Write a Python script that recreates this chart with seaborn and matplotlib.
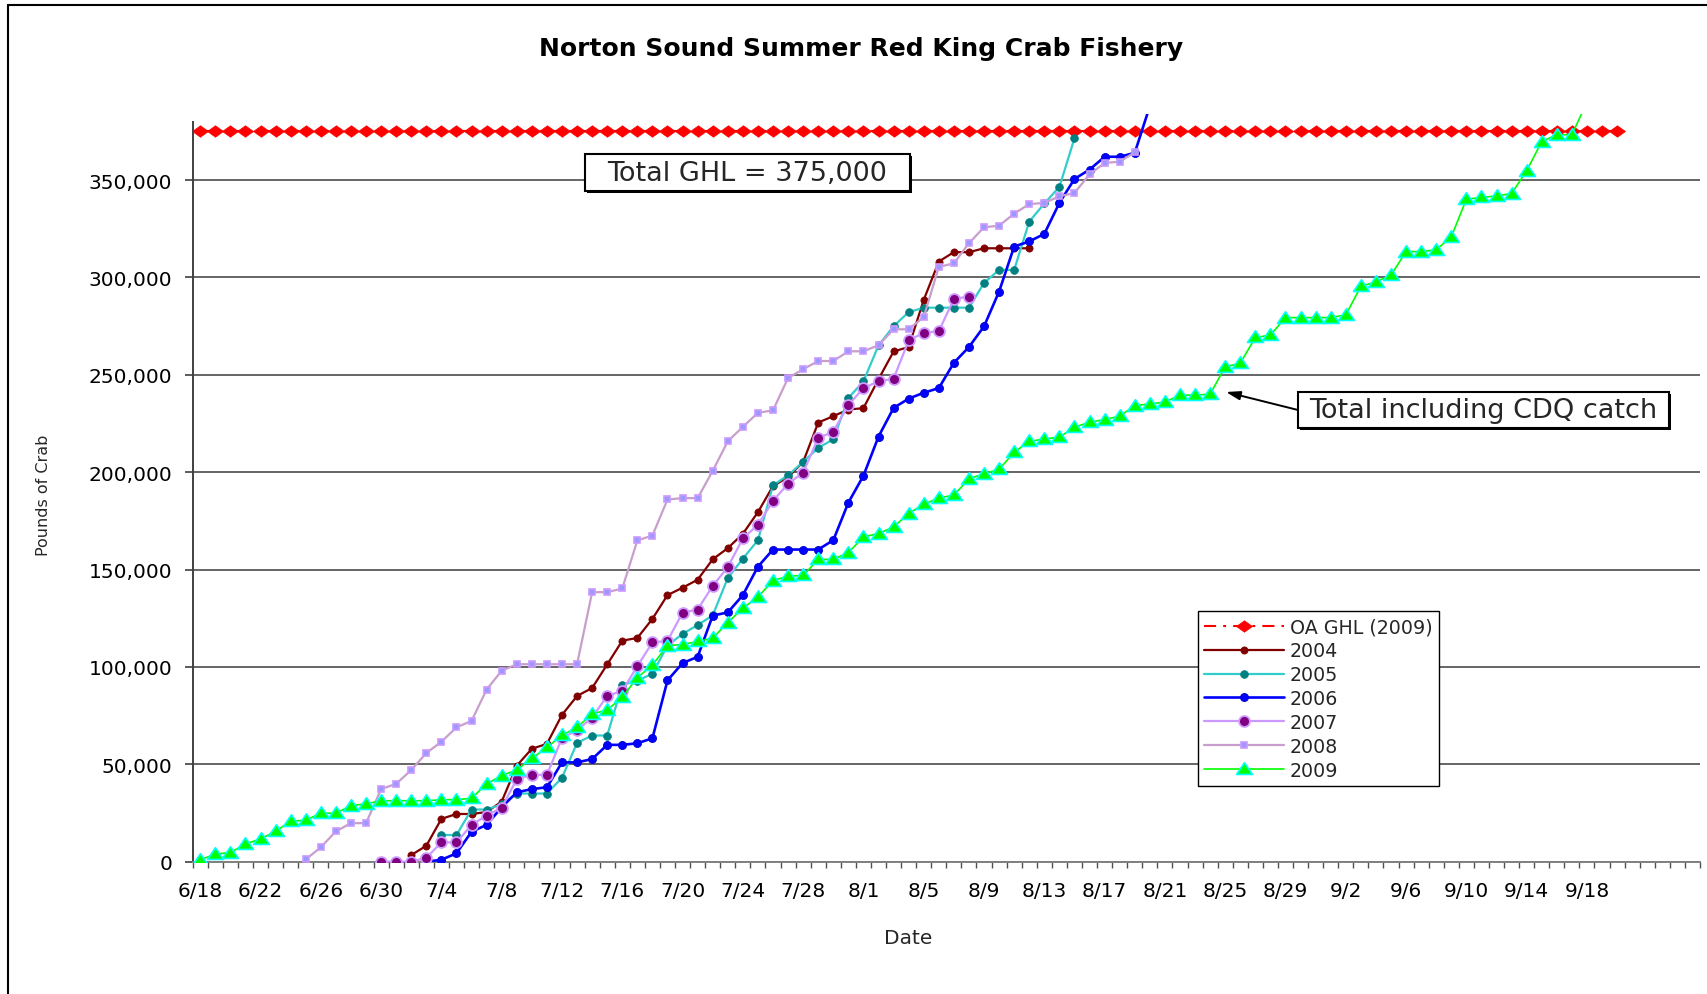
import numpy as np
import pandas as pd
import matplotlib
matplotlib.use("Agg")
import matplotlib.pyplot as plt
import seaborn as sns
from matplotlib.path import Path
from matplotlib.patches import Rectangle
from matplotlib.lines import Line2D
from matplotlib.ticker import FuncFormatter

# ---------------- data ----------------
n_days = 100
dates = pd.date_range("2009-06-18", periods=n_days)
date_labels = [f"{d.month}/{d.day}" for d in dates]
tick_label_every = 4
last_tick_label = "9/18"

ghl_value = 375000
ghl_start, ghl_end = "6/18", "9/20"

start_2004 = "7/2"
vals_2004 = [3400, 8200, 22000, 24500, 24500, 25500, 30900, 49300, 58000, 60500,
             75400, 85100, 89200, 101300, 113500, 114900, 124700, 136900, 140700, 144800,
             155300, 161000, 168400, 179500, 192900, 197500, 205300, 225500, 228800, 232200,
             232900, 247800, 262000, 264300, 288500, 308200, 313000, 313000, 315000, 315000,
             315000, 315000]

start_2005 = "7/4"
vals_2005 = [13700, 13700, 26800, 26800, 29500, 35000, 35000, 35000, 43100, 61000,
             64800, 64800, 90800, 93000, 96500, 111000, 117000, 121500, 126500, 145700,
             155600, 165100, 193300, 198500, 205300, 212500, 216900, 238100, 246700, 265100,
             275000, 282200, 284500, 284500, 284500, 284500, 297200, 303900, 303900, 328700,
             338000, 346500, 371500]

start_2006 = "7/3"
vals_2006 = [0, 1000, 4300, 15400, 18900, 28000, 35600, 37300, 38200, 51000,
             51000, 52700, 60000, 60000, 60800, 63400, 93100, 102000, 105200, 126400,
             128000, 136900, 151500, 160300, 160300, 160300, 160300, 165100, 184400, 198200,
             218300, 233000, 237800, 240800, 243200, 256200, 264300, 274900, 292800, 315900,
             318500, 322400, 338300, 350600, 355400, 362000, 362000, 364000, 388000]

start_2007 = "6/30"
vals_2007 = [0, 0, 0, 2000, 9900, 9900, 18900, 23700, 27800, 42300,
             44600, 44600, 63500, 67500, 74000, 85200, 87700, 100400, 112600, 113400,
             127900, 129500, 141600, 151300, 166000, 173000, 185300, 194100, 199800, 217600,
             220800, 234500, 243200, 246700, 248000, 267700, 271600, 272400, 289000, 290200]

start_2008 = "6/25"
vals_2008 = [1200, 7400, 15600, 19800, 19800, 37300, 40000, 47100, 55800, 61600,
             69000, 72300, 88400, 98100, 101400, 101400, 101400, 101400, 101400, 138400,
             138400, 140300, 165000, 167500, 186000, 186700, 186700, 200700, 215900, 223300,
             230500, 231800, 248400, 252900, 257100, 257100, 262100, 262100, 265200, 273400,
             273400, 279700, 305400, 307300, 317600, 325800, 326600, 332800, 337700, 338300,
             341700, 343400, 353000, 358800, 359500, 364300]

start_2009 = "6/18"
vals_2009 = [1000, 3900, 4700, 9100, 11700, 15600, 20800, 21300, 24900, 24900,
             28800, 29700, 31300, 31300, 31300, 31300, 31800, 31900, 32500, 40000,
             44200, 47200, 53000, 58700, 64900, 69000, 75900, 77900, 84500, 94500,
             101000, 111000, 111500, 113100, 114800, 122800, 130200, 135900, 144400, 146600,
             147000, 155200, 155300, 158700, 166800, 168500, 171900, 178800, 183500, 186800,
             188200, 196600, 199200, 201500, 210300, 215800, 217100, 218000, 223100, 225700,
             227000, 228800, 234200, 235100, 236000, 239600, 239600, 240100, 254100, 256000,
             269200, 270400, 279400, 279400, 279400, 279400, 280800, 295400, 297800, 301200,
             313300, 313300, 314200, 320900, 340200, 341100, 341900, 343100, 354800, 369800,
             373300, 373300, 390000]

legend_labels = ["OA GHL (2009)", "2004", "2005", "2006", "2007", "2008", "2009"]
title = "Norton Sound Summer Red King Crab Fishery"
note_ghl = "Total GHL = 375,000"
note_cdq = "Total including CDQ catch"


def frame(start, vals):
    i0 = date_labels.index(start)
    return pd.DataFrame({"day": np.arange(i0, i0 + len(vals)), "pounds": vals})


i_a, i_b = date_labels.index(ghl_start), date_labels.index(ghl_end)
df_ghl = pd.DataFrame({"day": np.arange(i_a, i_b + 1),
                       "pounds": [ghl_value] * (i_b - i_a + 1)})

# ---------------- style ----------------
sns.set_theme(style="white")
plt.rcParams["font.family"] = ["DejaVu Sans"]

W, H = 1707, 995
fig = plt.figure(figsize=(W / 100, H / 100), dpi=100)
fig.patch.set_facecolor("white")

ax_l, ax_r, ax_t, ax_b = 192.7, 1700.0, 115.0, 862.7
ax = fig.add_axes([ax_l / W, 1 - ax_b / H, (ax_r - ax_l) / W, (ax_b - ax_t) / H])
ax.set_facecolor("white")

diamond = Path([(-1, 0), (0, 0.72), (1, 0), (0, -0.72), (-1, 0)],
               [Path.MOVETO, Path.LINETO, Path.LINETO, Path.LINETO, Path.CLOSEPOLY])
tri = Path([(-1, -0.62), (1, -0.62), (0, 0.85), (-1, -0.62)],
           [Path.MOVETO, Path.LINETO, Path.LINETO, Path.CLOSEPOLY])

common = dict(ax=ax, x="day", y="pounds", legend=False, errorbar=None)

sns.lineplot(data=df_ghl, color="#FF0000", linewidth=1.5, linestyle=(0, (5.8, 3.4, 1.4, 3.4)),
             marker=diamond, markersize=11.5, markerfacecolor="#FF0000",
             markeredgecolor="#FF0000", markeredgewidth=0.5, label=legend_labels[0],
             zorder=2, **common)
sns.lineplot(data=frame(start_2004, vals_2004), color="#800000", linewidth=1.6,
             marker="o", markersize=5.2, markerfacecolor="#800000",
             markeredgecolor="#800000", markeredgewidth=0.5, label=legend_labels[1],
             zorder=3, **common)
sns.lineplot(data=frame(start_2005, vals_2005), color="#33CCCC", linewidth=1.6,
             marker="o", markersize=5.6, markerfacecolor="#008080",
             markeredgecolor="#008080", markeredgewidth=0.5, label=legend_labels[2],
             zorder=4, **common)
sns.lineplot(data=frame(start_2006, vals_2006), color="#0000FF", linewidth=1.9,
             marker="o", markersize=5.8, markerfacecolor="#0000FF",
             markeredgecolor="#0000CC", markeredgewidth=0.6, label=legend_labels[3],
             zorder=5, **common)
sns.lineplot(data=frame(start_2007, vals_2007), color="#CC99FF", linewidth=1.6,
             marker="o", markersize=7.8, markerfacecolor="#800080",
             markeredgecolor="#CC99FF", markeredgewidth=1.3, label=legend_labels[4],
             zorder=6, **common)
sns.lineplot(data=frame(start_2008, vals_2008), color="#C89ECC", linewidth=1.6,
             marker="s", markersize=5.0, markerfacecolor="#9999FF",
             markeredgecolor="#CC99FF", markeredgewidth=1.2, label=legend_labels[5],
             zorder=7, **common)
sns.lineplot(data=frame(start_2009, vals_2009), color="#00FF00", linewidth=1.2,
             marker=tri, markersize=11.5, markerfacecolor="#00FF00",
             markeredgecolor="#00FFFF", markeredgewidth=1.2, label=legend_labels[6],
             zorder=8, **common)

# ---------------- axes ----------------
ax.set_xlim(-0.5, n_days - 0.5)
y_axis_max = 380000
ax.set_ylim(0, (ax_b - ax_t) / (ax_b - 122.7) * y_axis_max)

for s in ["top", "right"]:
    ax.spines[s].set_visible(False)
ax.spines["left"].set_bounds(0, y_axis_max)
ax.spines["left"].set_color("#404040")
ax.spines["left"].set_linewidth(1.4)
ax.spines["bottom"].set_color("#808080")
ax.spines["bottom"].set_linewidth(1.4)

ax.set_yticks(np.arange(0, 350001, 50000))
ax.yaxis.set_major_formatter(FuncFormatter(lambda v, p: f"{int(v):,}"))
ax.tick_params(axis="y", which="major", direction="out", length=5.8, width=1.2,
               color="#404040", pad=9, labelsize=14.5, labelcolor="black", left=True)
ax.yaxis.grid(True, color="#3c3c3c", linewidth=1.1)
ax.xaxis.grid(False)
ax.set_axisbelow(True)

ax.set_xticks(np.arange(-0.5, n_days, 1.0))
ax.set_xticklabels([])
ax.tick_params(axis="x", which="major", direction="out", length=4.5, width=1.0,
               color="#505050", bottom=True)
last_i = date_labels.index(last_tick_label)
lab_pos = list(range(0, last_i + 1, tick_label_every))
ax.set_xticks(lab_pos, minor=True)
ax.set_xticklabels([date_labels[i] for i in lab_pos], minor=True)
ax.tick_params(axis="x", which="minor", length=0, pad=14, labelsize=14.5,
               labelcolor="black", bottom=True)
ax.set_xlabel("")
ax.set_ylabel("")

# ---------------- legend ----------------
handles = ax.get_lines()[:7]
leg = ax.legend(handles, legend_labels, loc="upper left",
                bbox_to_anchor=(1198 / W, 1 - 612 / H), bbox_transform=fig.transFigure,
                borderaxespad=0, fontsize=13.7, frameon=True, fancybox=False,
                edgecolor="black", framealpha=1, handlelength=4.2, handletextpad=0.3,
                labelspacing=0.26, borderpad=0.33, numpoints=1)
leg.get_frame().set_linewidth(1.0)
leg.set_zorder(20)

# ---------------- texts ----------------
fig.text(861 / W, 1 - 49 / H, title, ha="center", va="center",
         fontsize=18, fontweight="bold", color="black")
fig.text(908 / W, 1 - 938.5 / H, "Date", ha="center", va="center", fontsize=14.5)
fig.text(43.5 / W, 1 - 495 / H, "Pounds of Crab", ha="center", va="center",
         rotation=90, fontsize=11.5)


def boxed(x0, y0, x1, y1, text):
    sh = Rectangle((x0 / W + 2 / W, 1 - y1 / H - 2 / H), (x1 - x0) / W, (y1 - y0) / H,
                   transform=fig.transFigure, facecolor="black", edgecolor="black",
                   linewidth=0, zorder=30)
    fig.add_artist(sh)
    r = Rectangle((x0 / W, 1 - y1 / H), (x1 - x0) / W, (y1 - y0) / H,
                  transform=fig.transFigure, facecolor="white", edgecolor="black",
                  linewidth=1.5, zorder=31)
    fig.add_artist(r)
    fig.text((x0 + x1) / 2 / W, 1 - (y0 + y1) / 2 / H, text, ha="center", va="center",
             fontsize=19.5, zorder=32)


boxed(585, 155, 910, 192, note_ghl)
boxed(1298, 393, 1669, 429, note_cdq)

arr = ax.annotate("", xy=(1226 / W, 1 - 393 / H), xycoords="figure fraction",
                  xytext=(1298 / W, 1 - 411 / H), textcoords="figure fraction",
                  arrowprops=dict(arrowstyle="-|>,head_length=0.7,head_width=0.22",
                                  color="black", lw=1.4, shrinkA=0, shrinkB=0),
                  annotation_clip=False)
arr.set_zorder(25)

# chart-area border (left and top)
fig.add_artist(Line2D([8 / W, 8 / W], [0, 1 - 6 / H], transform=fig.transFigure,
                      color="black", linewidth=1.5))
fig.add_artist(Line2D([8 / W, 1], [1 - 6 / H, 1 - 6 / H], transform=fig.transFigure,
                      color="black", linewidth=1.5))

fig.savefig("out.png", dpi=100, facecolor="white")
